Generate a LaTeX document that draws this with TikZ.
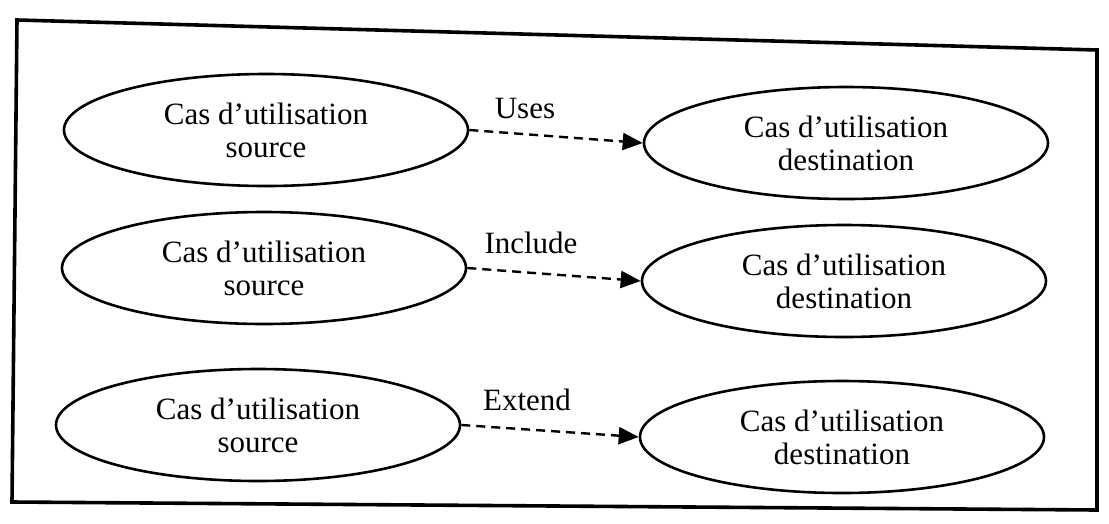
\documentclass[tikz,border=0pt]{standalone}
\usepackage{fontspec}
\setmainfont{Liberation Serif}
\usetikzlibrary{shapes.geometric,arrows.meta}
\begin{document}
\begin{tikzpicture}[x=1pt,y=-1pt,
  usecase/.style={draw,line width=2.6pt,ellipse,minimum width=404pt,minimum height=112pt,inner sep=0pt,align=center,font=\fontsize{31}{33}\selectfont},
  rel/.style={font=\fontsize{31}{33}\selectfont,inner sep=0pt},
  dep/.style={draw,line width=2.4pt,dash pattern=on 9pt off 6pt,-{Triangle[length=20pt,width=17pt]}}]
  \useasboundingbox (0,0) rectangle (1109,523);
  % outer frame
  \draw[line width=3.6pt,line join=miter] (17,20) -- (1097,50) -- (1097,510) -- (12,502) -- cycle;
  % use cases
  \node[usecase] (s1) at (266,130) {Cas d’utilisation\\source};
  \node[usecase] (d1) at (846,143) {Cas d’utilisation\\destination};
  \node[usecase] (s2) at (264,268) {Cas d’utilisation\\source};
  \node[usecase] (d2) at (844,281) {Cas d’utilisation\\destination};
  \node[usecase] (s3) at (258,425) {Cas d’utilisation\\source};
  \node[usecase] (d3) at (842,437) {Cas d’utilisation\\destination};
  % relation labels
  \node[rel] (l1) at (525,108) {Uses};
  \node[rel] (l2) at (531,243) {Include};
  \node[rel] (l3) at (527,400) {Extend};
  % dependencies
  \draw[dep] (s1.east) -- (d1.west);
  \draw[dep] (s2.east) -- (d2.west);
  \draw[dep] (s3.east) -- (d3.west);
\end{tikzpicture}
\end{document}
